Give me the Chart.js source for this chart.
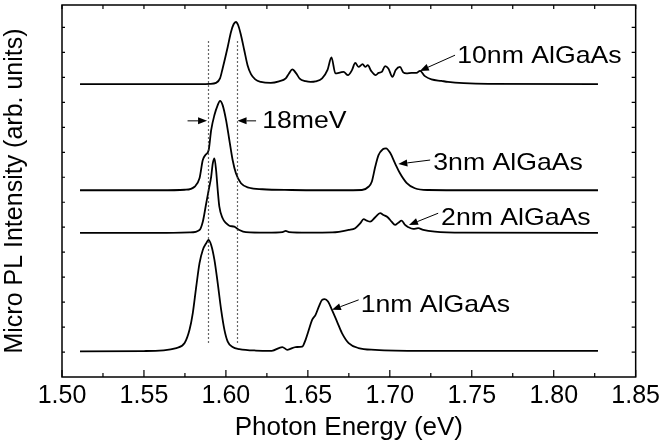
<!DOCTYPE html>
<html>
<head>
<meta charset="utf-8">
<script src="https://cdn.jsdelivr.net/npm/chart.js@4/dist/chart.umd.min.js"></script>
<style>
  html, body { margin: 0; padding: 0; background: #fff; }
  canvas { display: block; }
</style>
</head>
<body>
<canvas id="c" width="664" height="445"></canvas>
<script>
// ---- tick values / labels ----
const xTicks = [1.50, 1.55, 1.60, 1.65, 1.70, 1.75, 1.80, 1.85];
const xMinorTicks = [1.525, 1.575, 1.625, 1.675, 1.725, 1.775, 1.825];
const yTicks = [1, 2, 3, 4, 5, 6, 7, 8, 9, 10, 11, 12, 13, 14];

// ---- series: photon energy (eV) and offset PL intensity (arb.) ----
const e10 = [1.511, 1.560, 1.585, 1.590, 1.594, 1.5964, 1.598, 1.6011, 1.6031, 1.6047, 1.6061, 1.6075, 1.6092, 1.6112, 1.6132, 1.6153, 1.6179, 1.6213, 1.6274, 1.6324, 1.6365, 1.6385, 1.6405, 1.6430, 1.6450, 1.6486, 1.6516, 1.6547, 1.6587, 1.6620, 1.6644, 1.6668, 1.6700, 1.6718, 1.6745, 1.6769, 1.6789, 1.6809, 1.6834, 1.6850, 1.6866, 1.6886, 1.6914, 1.6931, 1.6951, 1.6971, 1.6991, 1.7016, 1.7036, 1.7062, 1.7082, 1.7102, 1.7133, 1.7163, 1.7184, 1.7214, 1.7254, 1.7315, 1.7355, 1.745, 1.760, 1.827];
const i10 = [11.73, 11.73, 11.73, 11.74, 11.78, 11.96, 12.36, 13.22, 13.82, 14.13, 14.22, 14.09, 13.69, 13.09, 12.49, 12.13, 11.92, 11.82, 11.78, 11.84, 11.96, 12.16, 12.32, 12.15, 11.95, 11.85, 11.82, 11.84, 11.96, 12.30, 12.80, 12.16, 12.20, 12.22, 12.09, 12.29, 12.58, 12.42, 12.53, 12.42, 12.49, 12.26, 12.09, 12.18, 12.22, 12.45, 12.36, 12.02, 12.30, 12.42, 12.20, 12.16, 12.18, 12.18, 12.26, 12.05, 11.92, 11.86, 11.82, 11.77, 11.74, 11.73];

const e3 = [1.511, 1.560, 1.575, 1.5809, 1.5839, 1.5859, 1.5875, 1.5895, 1.5910, 1.5930, 1.5950, 1.5964, 1.5980, 1.6001, 1.6021, 1.6041, 1.6061, 1.6092, 1.6142, 1.6223, 1.640, 1.670, 1.6830, 1.6870, 1.6890, 1.6911, 1.6931, 1.6957, 1.6977, 1.7002, 1.7032, 1.7062, 1.7102, 1.7153, 1.7234, 1.750, 1.827];
const i3 = [7.48, 7.48, 7.50, 7.62, 7.96, 8.69, 8.89, 9.09, 9.89, 10.49, 10.89, 11.06, 10.89, 10.29, 9.49, 8.69, 8.16, 7.76, 7.58, 7.52, 7.49, 7.48, 7.49, 7.62, 7.82, 8.42, 8.89, 9.12, 9.16, 8.98, 8.56, 8.16, 7.78, 7.56, 7.49, 7.48, 7.48];

const e2 = [1.511, 1.560, 1.578, 1.5839, 1.5859, 1.5880, 1.5895, 1.5910, 1.5920, 1.5930, 1.5940, 1.5950, 1.5960, 1.5980, 1.6001, 1.6021, 1.6051, 1.6082, 1.6122, 1.625, 1.6345, 1.6365, 1.6385, 1.650, 1.665, 1.6749, 1.6789, 1.6820, 1.6840, 1.6860, 1.6880, 1.6911, 1.6941, 1.6961, 1.6987, 1.7011, 1.7032, 1.7052, 1.7072, 1.7093, 1.7113, 1.7143, 1.7173, 1.7204, 1.7275, 1.745, 1.827];
const i2 = [5.77, 5.77, 5.79, 5.89, 6.22, 6.96, 7.49, 8.02, 8.56, 8.76, 8.29, 7.49, 6.82, 6.36, 6.16, 6.06, 6.02, 5.89, 5.80, 5.78, 5.80, 5.85, 5.80, 5.78, 5.79, 5.89, 5.96, 6.16, 6.32, 6.26, 6.22, 6.40, 6.56, 6.49, 6.40, 6.22, 6.09, 6.18, 6.26, 6.09, 6.00, 5.93, 5.96, 5.89, 5.82, 5.78, 5.77];

const e1 = [1.511, 1.550, 1.5698, 1.5748, 1.5778, 1.5798, 1.5819, 1.5839, 1.5859, 1.5880, 1.5893, 1.5910, 1.5930, 1.5950, 1.5971, 1.5991, 1.6011, 1.6041, 1.6082, 1.6183, 1.628, 1.6344, 1.6375, 1.6425, 1.6466, 1.6486, 1.6506, 1.6526, 1.6547, 1.6567, 1.6587, 1.6603, 1.6623, 1.6647, 1.6678, 1.6708, 1.6749, 1.6809, 1.6911, 1.720, 1.827];
const i1 = [1.03, 1.04, 1.16, 1.36, 1.89, 2.56, 3.62, 4.56, 5.09, 5.36, 5.49, 5.29, 4.69, 3.76, 2.69, 1.89, 1.42, 1.20, 1.12, 1.06, 1.05, 1.20, 1.09, 1.20, 1.22, 1.49, 1.89, 2.29, 2.49, 2.82, 3.09, 3.12, 3.02, 2.69, 2.22, 1.76, 1.36, 1.16, 1.09, 1.05, 1.05];

// ---- annotations (data coordinates) ----
const labelTexts = ['10nm AlGaAs', '3nm AlGaAs', '2nm AlGaAs', '1nm AlGaAs'];
const labelAnchors = [[1.7411, 12.86], [1.7265, 8.57], [1.7313, 6.37], [1.6822, 2.85]];
const labelArrows = [
  [1.7398, 12.89, 1.7183, 12.26],
  [1.7246, 8.69, 1.7052, 8.53],
  [1.7295, 6.56, 1.7117, 6.09],
  [1.6810, 3.09, 1.6647, 2.69]
];
const markerLines = [1.5889, 1.6067];      // dotted verticals (eV)
const markerSpan = [1.30, 13.45];           // their vertical extent
const widthText = '18meV';
const widthTextAnchor = [1.6221, 10.25];
const widthArrows = [[1.5766, 10.26, 1.5885, 10.26], [1.6184, 10.26, 1.6071, 10.26]];

const toPts = (e, v) => e.map((x, k) => ({ x: x, y: v[k] }));
const FONT = '"Liberation Sans", Arial, Helvetica, sans-serif';

function arrow(ctx, x1, y1, x2, y2) {
  const ang = Math.atan2(y2 - y1, x2 - x1);
  const L = 9, W = 3.5;
  const bx = x2 - L * Math.cos(ang), by = y2 - L * Math.sin(ang);
  ctx.beginPath();
  ctx.moveTo(x1, y1);
  ctx.lineTo(bx, by);
  ctx.stroke();
  ctx.beginPath();
  ctx.moveTo(x2, y2);
  ctx.lineTo(bx + W * Math.sin(ang), by - W * Math.cos(ang));
  ctx.lineTo(bx - W * Math.sin(ang), by + W * Math.cos(ang));
  ctx.closePath();
  ctx.fill();
}

const decor = {
  id: 'decor',
  afterDatasetsDraw(chart) {
    const { ctx, chartArea: a, scales: { x, y } } = chart;
    ctx.save();
    // dotted verticals
    ctx.strokeStyle = '#333';
    ctx.lineWidth = 1.2;
    ctx.setLineDash([1.5, 2.5]);
    markerLines.forEach(v => {
      const px = Math.round(x.getPixelForValue(v)) + 0.5;
      ctx.beginPath();
      ctx.moveTo(px, y.getPixelForValue(markerSpan[1]));
      ctx.lineTo(px, y.getPixelForValue(markerSpan[0]));
      ctx.stroke();
    });
    ctx.setLineDash([]);
    ctx.strokeStyle = '#000';
    ctx.fillStyle = '#000';
    ctx.lineWidth = 1;
    // arrows
    widthArrows.concat(labelArrows).forEach(r => {
      arrow(ctx, x.getPixelForValue(r[0]), y.getPixelForValue(r[1]),
                 x.getPixelForValue(r[2]), y.getPixelForValue(r[3]));
    });
    // texts (slightly widened like the original)
    ctx.font = '24px ' + FONT;
    ctx.textBaseline = 'middle';
    ctx.textAlign = 'left';
    const texts = labelTexts.map((t, k) => [t, labelAnchors[k]]).concat([[widthText, widthTextAnchor]]);
    texts.forEach(([t, p]) => {
      ctx.save();
      ctx.translate(x.getPixelForValue(p[0]), y.getPixelForValue(p[1]));
      ctx.scale(1.11, 1);
      ctx.fillText(t, 0, 0);
      ctx.restore();
    });
    // frame
    ctx.lineWidth = 1.5;
    ctx.strokeRect(a.left, a.top, a.right - a.left, a.bottom - a.top);
    // inward ticks
    ctx.lineWidth = 1.2;
    ctx.beginPath();
    xTicks.forEach(v => {
      const px = x.getPixelForValue(v);
      ctx.moveTo(px, a.bottom); ctx.lineTo(px, a.bottom - 7);
      ctx.moveTo(px, a.top); ctx.lineTo(px, a.top + 4);
    });
    xMinorTicks.forEach(v => {
      const px = x.getPixelForValue(v);
      ctx.moveTo(px, a.bottom); ctx.lineTo(px, a.bottom - 4);
      ctx.moveTo(px, a.top); ctx.lineTo(px, a.top + 4);
    });
    yTicks.forEach(v => {
      const py = y.getPixelForValue(v);
      ctx.moveTo(a.left, py); ctx.lineTo(a.left + 3, py);
      ctx.moveTo(a.right, py); ctx.lineTo(a.right - 4, py);
    });
    ctx.stroke();
    ctx.restore();
  }
};

const lineStyle = {
  borderColor: '#000', borderWidth: 1.8, pointRadius: 0, fill: false,
  cubicInterpolationMode: 'monotone'
};

new Chart(document.getElementById('c'), {
  type: 'line',
  data: {
    datasets: [
      Object.assign({ label: '10nm AlGaAs', data: toPts(e10, i10) }, lineStyle),
      Object.assign({ label: '3nm AlGaAs', data: toPts(e3, i3) }, lineStyle),
      Object.assign({ label: '2nm AlGaAs', data: toPts(e2, i2) }, lineStyle),
      Object.assign({ label: '1nm AlGaAs', data: toPts(e1, i1) }, lineStyle)
    ]
  },
  options: {
    responsive: false,
    animation: false,
    devicePixelRatio: 1,
    layout: { padding: { top: 5, right: 25, bottom: 2, left: 0 } },
    plugins: { legend: { display: false }, tooltip: { enabled: false } },
    scales: {
      x: {
        type: 'linear', min: 1.5, max: 1.85,
        afterBuildTicks: s => { s.ticks = xTicks.map(v => ({ value: v })); },
        afterFit: s => { s.height = 66; },
        grid: { display: false, drawTicks: false },
        border: { display: false },
        ticks: {
          autoSkip: false, maxRotation: 0, minRotation: 0, padding: 4,
          color: '#000', font: { family: FONT, size: 25 },
          callback: v => Number(v).toFixed(2)
        },
        title: {
          display: true, text: 'Photon Energy (eV)', color: '#000',
          font: { family: FONT, size: 26 }, padding: { top: 0, bottom: 0 }
        }
      },
      y: {
        type: 'linear', min: 0, max: 14.9,
        afterFit: s => { s.width = 62; },
        grid: { display: false, drawTicks: false },
        border: { display: false },
        ticks: { display: false, stepSize: 1 },
        title: {
          display: true, text: 'Micro PL Intensity (arb. units)', color: '#000',
          font: { family: FONT, size: 25 }, padding: { top: 0, bottom: 0 }
        }
      }
    }
  },
  plugins: [decor]
});
</script>
</body>
</html>
